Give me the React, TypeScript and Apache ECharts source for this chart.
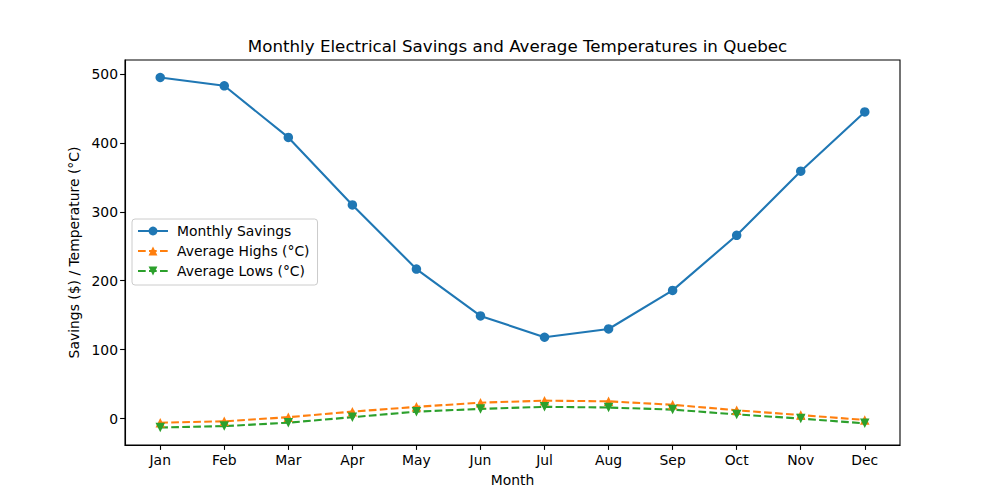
import React, { useEffect, useRef } from "react";
import * as echarts from "echarts";

const months = ["Jan", "Feb", "Mar", "Apr", "May", "Jun", "Jul", "Aug", "Sep", "Oct", "Nov", "Dec"];
const savings = [495, 483, 408, 310, 217, 149, 118, 130, 186, 266, 359, 445];
const highs = [-6, -4, 2, 10, 17, 23, 26, 25, 20, 12, 5, -2];
const lows = [-13, -11, -6, 2, 10, 14, 17, 16, 13, 6, 0, -7];
const yTicks = [0, 100, 200, 300, 400, 500];

const FONT = "DejaVu Sans";

export default function App() {
  const ref = useRef<HTMLDivElement>(null);
  useEffect(() => {
    if (!ref.current) return;
    const chart = echarts.init(ref.current, null, { renderer: "svg" });
    const xIdx = months.map((_, i) => i);
    const toPairs = (arr: number[]) => arr.map((v, i) => [i, v]);
    chart.setOption({
      animation: false,
      backgroundColor: "#ffffff",
      textStyle: { fontFamily: FONT },
      title: {
        text: "Monthly Electrical Savings and Average Temperatures in Quebec",
        left: 512.5,
        top: 32,
        textAlign: "center",
        textStyle: { fontFamily: FONT, fontSize: 16.7, fontWeight: "normal", color: "#000" },
      },
      legend: {
        orient: "vertical",
        left: 132,
        top: 219,
        padding: [5, 8, 7, 5],
        itemWidth: 30,
        itemHeight: 11,
        itemGap: 6,
        borderColor: "#cccccc",
        borderWidth: 1,
        borderRadius: 3,
        backgroundColor: "rgba(255,255,255,0.8)",
        textStyle: { fontFamily: FONT, fontSize: 13.9, color: "#000", padding: [0, 0, 0, 4] },
        data: ["Monthly Savings", "Average Highs (°C)", "Average Lows (°C)"],
      },
      grid: {
        left: 125,
        right: 100,
        top: 60,
        bottom: 55,
        show: true,
        borderColor: "#000",
        borderWidth: 1.1,
        backgroundColor: "transparent",
      },
      xAxis: {
        type: "value",
        min: -0.55,
        max: 11.55,
        name: "Month",
        nameLocation: "middle",
        nameGap: 28,
        nameTextStyle: { fontFamily: FONT, fontSize: 13.9, color: "#000" },
        splitLine: { show: false },
        axisLine: { show: true, onZero: false, lineStyle: { color: "#000", width: 1.1 } },
        axisTick: { show: true, inside: false, length: 4.9, lineStyle: { color: "#000", width: 1.1 }, customValues: xIdx },
        axisLabel: {
          fontFamily: FONT,
          fontSize: 13.9,
          color: "#000",
          margin: 8,
          customValues: xIdx,
          formatter: (v: number) => months[Math.round(v)] ?? "",
        },
      },
      yAxis: {
        type: "value",
        min: -38.4,
        max: 520.4,
        name: "Savings ($) / Temperature (°C)",
        nameLocation: "middle",
        nameGap: 43,
        nameTextStyle: { fontFamily: FONT, fontSize: 13.9, color: "#000" },
        splitLine: { show: false },
        axisLine: { show: true, onZero: false, lineStyle: { color: "#000", width: 1.1 } },
        axisTick: { show: true, inside: false, length: 4.9, lineStyle: { color: "#000", width: 1.1 }, customValues: yTicks },
        axisLabel: { fontFamily: FONT, fontSize: 13.9, color: "#000", margin: 7, customValues: yTicks },
      },
      series: [
        {
          name: "Monthly Savings",
          type: "line",
          data: toPairs(savings),
          symbol: "circle",
          symbolSize: 9.5,
          color: "#1f77b4",
          lineStyle: { color: "#1f77b4", width: 2.1 },
          itemStyle: { color: "#1f77b4" },
        },
        {
          name: "Average Highs (°C)",
          type: "line",
          data: toPairs(highs),
          symbol: "triangle",
          symbolSize: 9.5,
          color: "#ff7f0e",
          lineStyle: { color: "#ff7f0e", width: 2.1, type: [7.7, 3.3] },
          itemStyle: { color: "#ff7f0e" },
        },
        {
          name: "Average Lows (°C)",
          type: "line",
          data: toPairs(lows),
          symbol: "triangle",
          symbolRotate: 180,
          symbolSize: 9.5,
          color: "#2ca02c",
          lineStyle: { color: "#2ca02c", width: 2.1, type: [7.7, 3.3] },
          itemStyle: { color: "#2ca02c" },
        },
      ],
    });
    return () => chart.dispose();
  }, []);
  return (
    <div
      ref={ref}
      style={{ position: "fixed", left: 0, top: 0, width: 1000, height: 500, background: "#fff" }}
    />
  );
}
